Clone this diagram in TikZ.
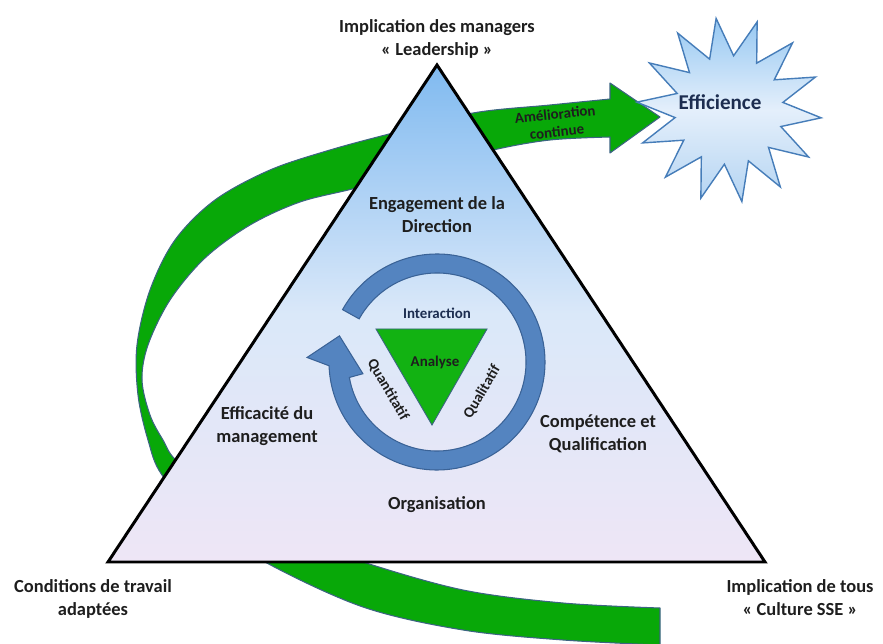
\documentclass[tikz,border=0pt]{standalone}
\usepackage{fontspec}
\setmainfont{Carlito}
\definecolor{ribgreen}{RGB}{8, 168, 8}
\definecolor{ribedge}{RGB}{60, 100, 130}
\definecolor{pyrtop}{RGB}{128, 186, 240}
\definecolor{pyrmid}{RGB}{218, 232, 249}
\definecolor{pyrbot}{RGB}{238, 230, 246}
\definecolor{ringblue}{RGB}{84, 132, 192}
\definecolor{ringedge}{RGB}{58, 98, 150}
\definecolor{coregreen}{RGB}{18, 178, 18}
\definecolor{staredge}{RGB}{70, 125, 185}
\definecolor{startop}{RGB}{150, 200, 242}
\definecolor{starmid}{RGB}{228, 239, 251}
\definecolor{starbot}{RGB}{180, 212, 242}
\definecolor{navytext}{RGB}{28, 45, 80}
\definecolor{labeltext}{RGB}{30, 30, 30}
\usetikzlibrary{shapes.geometric, positioning}

\begin{document}
\begin{tikzpicture}[x=0.02cm, y=0.02cm,
  lbl/.style={font=\fontsize{10.5}{13}\selectfont\bfseries, text=labeltext, align=center, inner sep=0pt},
  small/.style={font=\fontsize{8.5}{10}\selectfont\bfseries, text=labeltext, align=center, inner sep=0pt}]
  \useasboundingbox (0,0) rectangle (883,643);

  % Green ribbon ending in the arrow (the pyramid hides its middle)
  \filldraw[fill=ribgreen, draw=ribedge, line width=0.6pt, line join=round]
    (610,544) -- (610,560) -- (660,526) -- (610,490) -- (610,506)
    -- plot[smooth, tension=0.55] coordinates {(610,506) (550,503) (493,493) (420,474) (356,455) (300,441) (250,418) (205,385) (170,343) (148,298) (142,263) (150,228) (163,203) (178,181) (230,145) (300,105) (363,81) (463,53) (563,40) (660,35)}
    -- (660,-2)
    -- plot[smooth, tension=0.55] coordinates {(660,-2) (563,3) (463,13) (363,36) (265,81) (205,122) (162,168) (148,203) (138,248) (137,298) (150,353) (175,403) (215,443) (270,473) (330,493) (393,510) (473,530) (550,538) (610,544)}
    -- cycle;

  % Pyramid
  \coordinate (apex) at (437,578);
  \coordinate (bl) at (108,81);
  \coordinate (br) at (765,81);
  \draw[line width=1.7pt, top color=pyrtop, bottom color=pyrbot, middle color=pyrmid] (apex) -- (bl) -- (br) -- cycle;

  % Circular arrow
  \begin{scope}[shift={(437,281)}]
    \filldraw[fill=ringblue, draw=ringedge, line width=0.6pt]
      (151:108) arc[start angle=151, end angle=-178, radius=108]
      -- (178:130) -- (165:101) -- (189:75) -- (190:89)
      arc[start angle=190, end angle=511, radius=89] -- cycle;
  \end{scope}

  % Core triangle
  \coordinate (ctl) at (376,314);
  \coordinate (ctr) at (487,314);
  \coordinate (cb) at (432,218);
  \filldraw[fill=coregreen, draw=ribedge, line width=0.5pt] (ctl) -- (ctr) -- (cb) -- cycle;

  % Target
  \node[star, star points=14, star point ratio=1.7, minimum size=3.7cm, inner sep=0pt, draw=staredge, line width=0.8pt,
        top color=startop, bottom color=starbot, middle color=starmid, shape border rotate=8] (burst) at (729,533) {};
  \node[font=\fontsize{12}{14}\selectfont\bfseries, text=navytext, inner sep=0pt] (efficience) at (720,541) {Efficience};

  % Labels
  \node[lbl] (managers) at (437,604) {Implication des managers\\« Leadership »};
  \node[lbl] (conditions) at (93,44) {Conditions de travail\\adaptées};
  \node[lbl] (tous) at (800,45) {Implication de tous\\« Culture SSE »};
  \node[lbl] (engagement) at (437,428) {Engagement de la\\Direction};
  \node[lbl] (efficacite) at (267,217) {Efficacité du\\management};
  \node[lbl] (competence) at (598,209) {Compétence et\\Qualification};
  \node[lbl] (organisation) at (437,138) {Organisation};
  \node[small, text=navytext] (interaction) at (437,330) {Interaction};
  \node[small] (analyse) at (435,281) {Analyse};
  \node[small, rotate=-59.5] (quanti) at (388,253) {Quantitatif};
  \node[small, rotate=59.5] (quali) at (482,251) {Qualitatif};
  \node[small, rotate=6] (amelioration) at (556,520) {Amélioration\\continue};
\end{tikzpicture}
\end{document}
